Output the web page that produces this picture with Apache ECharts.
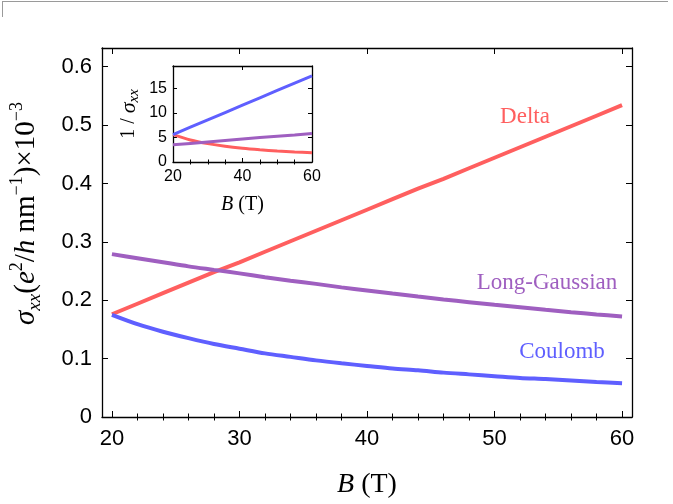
<!DOCTYPE html>
<html><head><meta charset="utf-8">
<script src="https://cdn.jsdelivr.net/npm/echarts@6/dist/echarts.min.js"></script>
<style>html,body{margin:0;padding:0;background:#fff}#c{width:673px;height:504px}</style>
</head><body><div id="c"></div>
<script>
// ---- main panel data: B (T) vs sigma_xx (e^2/h nm^-1) x10^-3 ----
const B = [20,22,24,26,28,30,32,34,36,38,40,42,44,46,48,50,52,54,56,58,60];
const delta = [0.176,0.194,0.212,0.230,0.248,0.265,0.283,0.301,0.319,0.337,0.355,0.373,0.391,0.408,0.426,0.444,0.462,0.480,0.498,0.516,0.534];
const longGaussian = [0.279,0.272,0.265,0.258,0.252,0.246,0.2395,0.2335,0.228,0.222,0.2167,0.2114,0.2063,0.2014,0.1967,0.1921,0.1878,0.1836,0.1795,0.1757,0.172];
const coulomb = [0.175,0.159,0.146,0.135,0.125,0.117,0.109,0.103,0.097,0.092,0.0875,0.083,0.080,0.076,0.073,0.070,0.067,0.065,0.0625,0.060,0.058];
const xTicks = [20,30,40,50,60];
const xMinorTicks = [22,24,26,28,32,34,36,38,42,44,46,48,52,54,56,58];
const yTicks = [0,0.1,0.2,0.3,0.4,0.5,0.6];
const seriesNames = ['Delta','Long-Gaussian','Coulomb'];
// ---- inset data: B (T) vs 1/sigma_xx ----
const insetB = [20,25,30,35,40,45,50,55,60];
const insetDelta = [5.6,4.5,3.75,3.2,2.8,2.5,2.25,2.05,1.87];
const insetLongGaussian = [3.5,3.8,4.1,4.4,4.7,5.0,5.25,5.5,5.8];
const insetCoulomb = [5.6,7.1,8.6,10.1,11.6,13.1,14.6,16.1,17.6];
const insetXTicks = [20,40,60];
const insetXMinorTicks = [25,30,35,45,50,55];
const insetYTicks = [0,5,10,15];

const RED = '#FF5F5F', BLUE = '#5F5FFF', PURPLE = '#9F5FC0';
const SANS = 'Liberation Sans', SERIF = 'Liberation Serif';

function pairs(xs, ys){ return xs.map((x,i)=>[x, ys[i]]); }

function xAx(grid, pos, min, max, ticks, len, opts){
  return Object.assign({
    type:'value', gridIndex:grid, position:pos, min:min, max:max,
    axisLine:{show:true, onZero:false, lineStyle:{color:'#000', width:1.3}},
    axisTick:{show:true, inside:true, length:len, customValues:ticks, lineStyle:{color:'#000', width:1}},
    axisLabel:{show:false},
    splitLine:{show:false}
  }, opts||{});
}
function yAx(grid, pos, min, max, ticks, len, opts){
  return Object.assign({
    type:'value', gridIndex:grid, position:pos, min:min, max:max,
    axisLine:{show:true, onZero:false, lineStyle:{color:'#000', width:1.3}},
    axisTick:{show:true, inside:true, length:len, customValues:ticks, lineStyle:{color:'#000', width:1}},
    axisLabel:{show:false},
    splitLine:{show:false}
  }, opts||{});
}

const chart = echarts.init(document.getElementById('c'), null, {renderer:'canvas'});

const mainXmin = 19.22, mainXmax = 60.78, mainYmax = 0.632;

const option = {
  animation:false,
  backgroundColor:'#fff',
  grid:[
    {left:100, top:48, width:532, height:374},
    {left:173, top:66, width:139, height:96}
  ],
  xAxis:[
    xAx(0,'bottom',mainXmin,mainXmax,xTicks,6,{
      axisLabel:{show:true, customValues:xTicks, fontFamily:SANS, fontSize:22, color:'#000', margin:11},
      name:'{i|B}{r| (T)}', nameLocation:'middle', nameGap:54,
      nameTextStyle:{rich:{i:{fontFamily:SERIF, fontStyle:'italic', fontSize:28, color:'#000'}, r:{fontFamily:SERIF, fontSize:28, color:'#000'}}}
    }),
    xAx(0,'bottom',mainXmin,mainXmax,xMinorTicks,3.5,{axisLine:{show:false}}),
    xAx(0,'top',mainXmin,mainXmax,xTicks,6),
    xAx(0,'top',mainXmin,mainXmax,xMinorTicks,3.5,{axisLine:{show:false}}),
    xAx(1,'bottom',20,60,insetXTicks,4,{
      axisLabel:{show:true, customValues:insetXTicks, fontFamily:SANS, fontSize:16, color:'#000', margin:7},
      name:'{i|B}{r| (T)}', nameLocation:'middle', nameGap:33,
      nameTextStyle:{rich:{i:{fontFamily:SERIF, fontStyle:'italic', fontSize:20, color:'#000'}, r:{fontFamily:SERIF, fontSize:20, color:'#000'}}}
    }),
    xAx(1,'bottom',20,60,insetXMinorTicks,2.5,{axisLine:{show:false}}),
    xAx(1,'top',20,60,insetXTicks,4),
    xAx(1,'top',20,60,insetXMinorTicks,2.5,{axisLine:{show:false}})
  ],
  yAxis:[
    yAx(0,'left',0,mainYmax,yTicks,6,{
      axisLabel:{show:true, customValues:yTicks, fontFamily:SANS, fontSize:22, color:'#000', margin:10},
      name:'{i|σ}{sub|xx}{r|(}{i|e}{sup|2}{r|/}{i|h}{r| nm}{sup|−1}{r|)×10}{sup|−3}',
      nameLocation:'middle', nameRotate:90, nameGap:58,
      nameTextStyle:{padding:[0,0,0,38], rich:{
        i:{fontFamily:SERIF, fontStyle:'italic', fontSize:29, color:'#000', lineHeight:36},
        r:{fontFamily:SERIF, fontSize:29, color:'#000', lineHeight:36},
        sub:{fontFamily:SERIF, fontStyle:'italic', fontSize:19, color:'#000', verticalAlign:'bottom', lineHeight:23},
        sup:{fontFamily:SERIF, fontSize:18, color:'#000', verticalAlign:'top', lineHeight:23}
      }}
    }),
    yAx(0,'right',0,mainYmax,yTicks,6),
    yAx(1,'left',0,19.6,insetYTicks,4,{
      axisLabel:{show:true, customValues:insetYTicks, fontFamily:SANS, fontSize:16, color:'#000', margin:6},
      name:'{r|1 / }{i|σ}{sub|xx}', nameLocation:'middle', nameRotate:90, nameGap:31,
      nameTextStyle:{rich:{
        i:{fontFamily:SERIF, fontStyle:'italic', fontSize:22, color:'#000', lineHeight:26},
        r:{fontFamily:SERIF, fontSize:20, color:'#000', lineHeight:26},
        sub:{fontFamily:SERIF, fontStyle:'italic', fontSize:15, color:'#000', verticalAlign:'bottom', lineHeight:18}
      }}
    }),
    yAx(1,'right',0,19.6,insetYTicks,4)
  ],
  series:[
    {name:seriesNames[0], type:'line', xAxisIndex:0, yAxisIndex:0, data:pairs(B,delta), showSymbol:false, lineStyle:{color:RED, width:4}, itemStyle:{color:RED}},
    {name:seriesNames[1], type:'line', xAxisIndex:0, yAxisIndex:0, data:pairs(B,longGaussian), showSymbol:false, smooth:0.3, lineStyle:{color:PURPLE, width:4}, itemStyle:{color:PURPLE}},
    {name:seriesNames[2], type:'line', xAxisIndex:0, yAxisIndex:0, data:pairs(B,coulomb), showSymbol:false, smooth:0.3, lineStyle:{color:BLUE, width:4}, itemStyle:{color:BLUE}},
    {name:'inset '+seriesNames[0], type:'line', xAxisIndex:4, yAxisIndex:2, data:pairs(insetB,insetDelta), showSymbol:false, smooth:0.3, lineStyle:{color:RED, width:3}},
    {name:'inset '+seriesNames[1], type:'line', xAxisIndex:4, yAxisIndex:2, data:pairs(insetB,insetLongGaussian), showSymbol:false, lineStyle:{color:PURPLE, width:3}},
    {name:'inset '+seriesNames[2], type:'line', xAxisIndex:4, yAxisIndex:2, data:pairs(insetB,insetCoulomb), showSymbol:false, lineStyle:{color:BLUE, width:3}}
  ],
  graphic:[
    {type:'line', shape:{x1:2, y1:1.5, x2:668, y2:1.5}, style:{stroke:'#9a9a9a', lineWidth:1}, silent:true},
    {type:'line', shape:{x1:2.5, y1:1, x2:2.5, y2:17}, style:{stroke:'#9a9a9a', lineWidth:1}, silent:true},
    {type:'text', x:525, y:117, style:{text:seriesNames[0], fill:RED, font:'23px "Liberation Serif"', textAlign:'center', textVerticalAlign:'middle'}},
    {type:'text', x:547, y:283, style:{text:seriesNames[1], fill:PURPLE, font:'23px "Liberation Serif"', textAlign:'center', textVerticalAlign:'middle'}},
    {type:'text', x:562, y:352, style:{text:seriesNames[2], fill:BLUE, font:'23px "Liberation Serif"', textAlign:'center', textVerticalAlign:'middle'}}
  ]
};
chart.setOption(option);
</script>
</body></html>
